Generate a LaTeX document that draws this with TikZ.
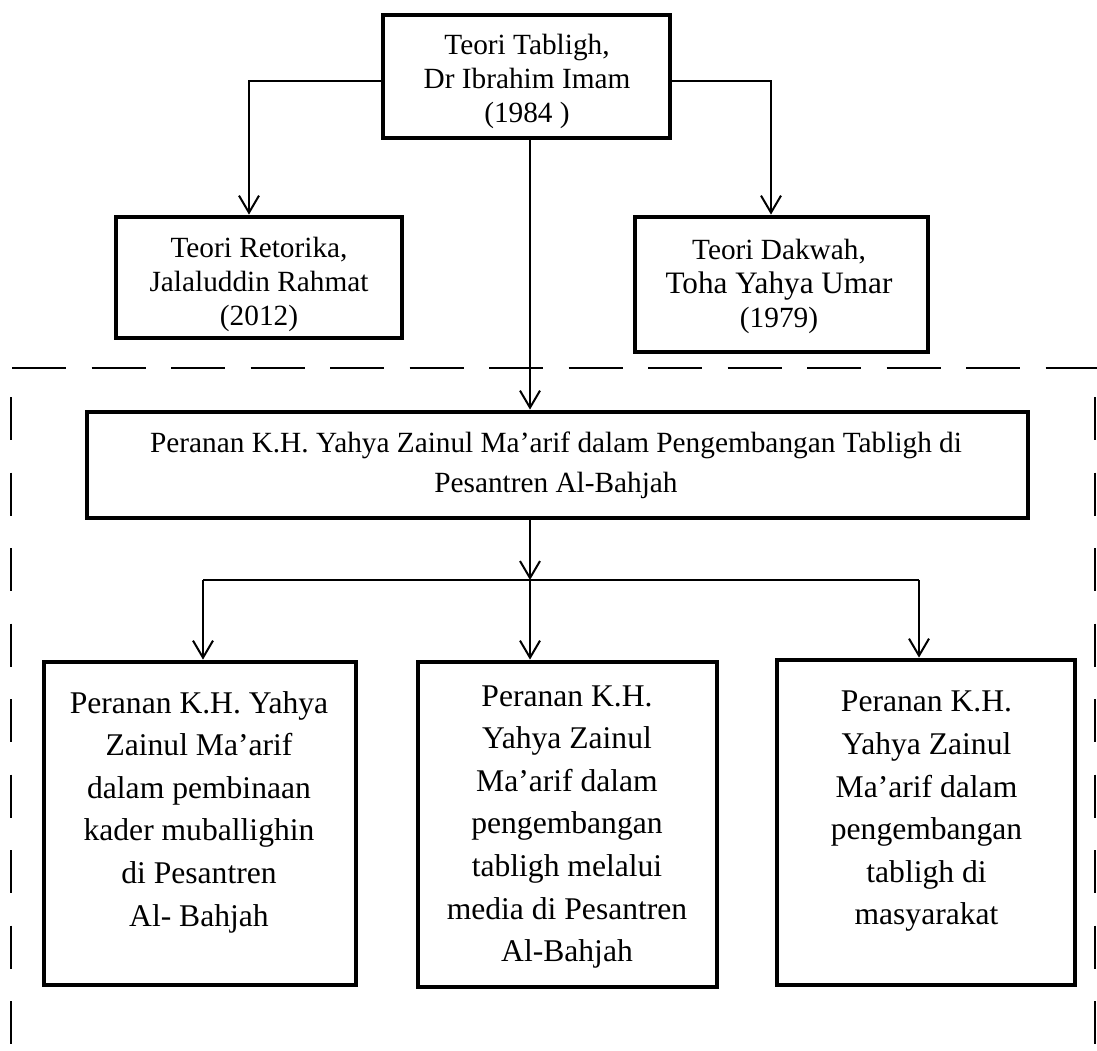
\documentclass[tikz,border=0pt]{standalone}
\usepackage{fontspec}
\setmainfont{Liberation Serif}
\usetikzlibrary{arrows.meta}
\begin{document}
\begin{tikzpicture}[x=1pt,y=-1pt,
  box/.style={draw=black, line width=4.8pt, inner sep=0pt, fill=none},
  conn/.style={draw=black, line width=2pt},
  arr/.style={conn, -{Straight Barb[length=17pt,width=20pt]}},
  frame/.style={draw=black, line width=2pt},
  smalltxt/.style={align=center, inner sep=0pt, font=\fontsize{29.3}{34}\selectfont},
  bigtxt/.style={align=center, inner sep=0pt, font=\fontsize{31.6}{42.6}\selectfont}
]
\useasboundingbox (0,0) rectangle (1097,1050);
\fill[white] (0,0) rectangle (1097,1050);

% boxes
\node[box, minimum width=287pt, minimum height=123pt] (T) at (526.5,76.5) {};
\node[box, minimum width=286pt, minimum height=121pt] (R) at (259,277.5) {};
\node[box, minimum width=293pt, minimum height=135pt] (D) at (781.5,284.5) {};
\node[box, minimum width=941pt, minimum height=106pt] (M) at (557.5,465) {};
\node[box, minimum width=312pt, minimum height=323pt] (B1) at (200,823.5) {};
\node[box, minimum width=299pt, minimum height=325pt] (B2) at (567.5,824.5) {};
\node[box, minimum width=298pt, minimum height=325pt] (B3) at (926,822.5) {};

% texts
\node[smalltxt] (tT) at (527,81) {Teori Tabligh,\\Dr Ibrahim Imam\\(1984 )};
\node[smalltxt] (tR) at (259,284) {Teori Retorika,\\Jalaluddin Rahmat\\(2012)};
\node[smalltxt] (tD) at (779,286) {Teori Dakwah,\\{\fontsize{31.2}{34}\selectfont Toha Yahya Umar}\\(1979)};
\node[align=center, inner sep=0pt, font=\fontsize{29.3}{40}\selectfont] (tM) at (556,465)
  {Peranan K.H. Yahya Zainul Ma’arif dalam Pengembangan Tabligh di\\Pesantren Al-Bahjah};
\node[bigtxt] (tB1) at (199,812) {Peranan K.H. Yahya\\Zainul Ma’arif\\dalam pembinaan\\kader muballighin\\di Pesantren\\Al- Bahjah};
\node[bigtxt] (tB2) at (567,827) {Peranan K.H.\\Yahya Zainul\\Ma’arif dalam\\pengembangan\\tabligh melalui\\media di Pesantren\\Al-Bahjah};
\node[bigtxt] (tB3) at (926.5,811.5) {Peranan K.H.\\Yahya Zainul\\Ma’arif dalam\\pengembangan\\tabligh di\\masyarakat};

% connector bend points
\coordinate (lk) at (249,81);
\coordinate (rk) at (771,81);
\coordinate (ck) at (530,580);
\coordinate (bl) at (203,580);
\coordinate (br) at (919,580);

\draw[arr] (T.west |- lk) -- (lk) -- (R.north -| lk);
\draw[arr] (T.east |- rk) -- (rk) -- (D.north -| rk);
\draw[arr] (T.south -| ck) -- (M.north -| ck);
\draw[arr] (M.south -| ck) -- (ck);
\draw[conn] (bl) -- (br);
\draw[arr] (bl) -- (B1.north -| bl);
\draw[arr] (ck) -- (B2.north -| ck);
\draw[arr] (br) -- (B3.north -| br);

% dashed frame
\coordinate (f1) at (12,368);
\coordinate (f2) at (1097,368);
\coordinate (f3) at (11,397);
\coordinate (f4) at (11,1050);
\coordinate (f5) at (1095,397);
\coordinate (f6) at (1095,1050);
\draw[frame, dash pattern=on 54pt off 25.5pt] (f1) -- (f2);
\draw[frame, dash pattern=on 43pt off 32.5pt] (f3) -- (f4);
\draw[frame, dash pattern=on 43pt off 32.5pt] (f5) -- (f6);
\end{tikzpicture}
\end{document}
